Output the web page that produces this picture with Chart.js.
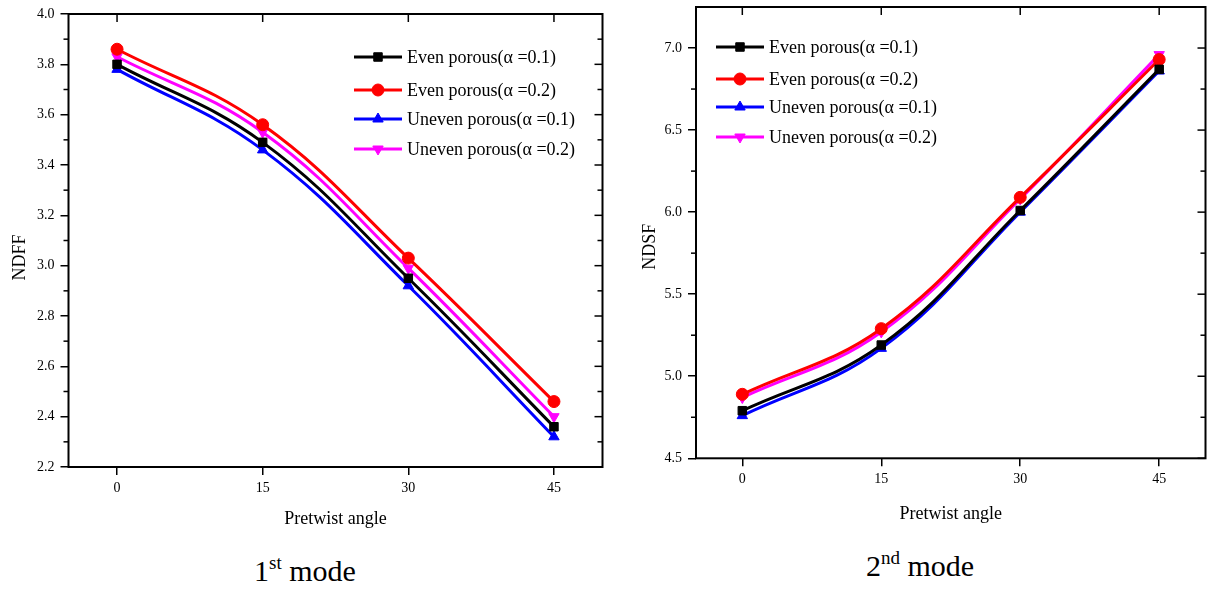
<!DOCTYPE html>
<html>
<head>
<meta charset="utf-8">
<script src="https://cdn.jsdelivr.net/npm/chart.js@4.4.1/dist/chart.umd.min.js"></script>
<style>
  html, body { margin: 0; padding: 0; background: #fff; }
  body { width: 1207px; height: 590px; position: relative; overflow: hidden;
         font-family: "Liberation Serif", "Times New Roman", serif; }
  .box { position: absolute; top: 0; }
  .cap { position: absolute; font-size: 30px; color: #000; white-space: nowrap; transform: translateX(-50%); }
  .cap sup { font-size: 19px; vertical-align: 12px; line-height: 0; }
</style>
</head>
<body>
<div class="box" style="left:0;"><canvas id="mode1" width="620" height="540"></canvas></div>
<div class="box" style="left:620px;"><canvas id="mode2" width="587" height="540"></canvas></div>
<div class="cap" style="left:305px; top:554px;">1<sup>st</sup> mode</div>
<div class="cap" style="left:920px; top:549px;">2<sup>nd</sup> mode</div>

<script>
/* ========= DATA ========= */
const angles = [0, 15, 30, 45];
const seriesNames = [
  "Even porous(\u03b1 =0.1)",
  "Even porous(\u03b1 =0.2)",
  "Uneven porous(\u03b1 =0.1)",
  "Uneven porous(\u03b1 =0.2)"
];

// 1st mode, NDFF
const ndffEven01 = [3.80, 3.49, 2.95, 2.36];
const ndffEven02 = [3.86, 3.56, 3.03, 2.46];
const ndffUneven01 = [3.78, 3.46, 2.92, 2.32];
const ndffUneven02 = [3.83, 3.53, 2.99, 2.40];
const ndffTicks = [2.2, 2.4, 2.6, 2.8, 3.0, 3.2, 3.4, 3.6, 3.8, 4.0];

// 2nd mode, NDSF
const ndsfEven01 = [4.79, 5.19, 6.01, 6.87];
const ndsfEven02 = [4.89, 5.29, 6.09, 6.93];
const ndsfUneven01 = [4.76, 5.17, 6.00, 6.86];
const ndsfUneven02 = [4.87, 5.27, 6.08, 6.96];
const ndsfTicks = [4.5, 5.0, 5.5, 6.0, 6.5, 7.0];

/* ========= STYLE ========= */
const FONT = "'Liberation Serif', 'Times New Roman', serif";
Chart.defaults.font.family = FONT;
Chart.defaults.color = "#000";

const looks = [
  { color: "#000000", pointStyle: "rect", rotation: 0 },
  { color: "#ff0000", pointStyle: "circle", rotation: 0 },
  { color: "#0000ff", pointStyle: "triangle", rotation: 0 },
  { color: "#ff00ff", pointStyle: "triangle", rotation: 180 }
];

function makeDatasets(lists) {
  return lists.map((vals, i) => ({
    label: seriesNames[i],
    data: vals,
    borderColor: looks[i].color,
    backgroundColor: looks[i].color,
    borderWidth: 3,
    pointStyle: looks[i].pointStyle,
    pointRotation: looks[i].rotation,
    pointRadius: 6,
    pointBorderWidth: 1,
    tension: 0.4,
    fill: false
  }));
}

/* ========= FRAME, MINOR TICKS, LEGEND ========= */
const framePlugin = {
  id: "frame",
  afterDraw(chart, args, o) {
    const { ctx, chartArea: a, scales: { x, y } } = chart;
    ctx.save();
    ctx.strokeStyle = "#000";
    ctx.lineWidth = 1.5;
    const seg = (x1, y1, x2, y2) => { ctx.beginPath(); ctx.moveTo(x1, y1); ctx.lineTo(x2, y2); ctx.stroke(); };

    // major + minor on y, mirrored on the right side
    const yt = o.yTicks;
    yt.forEach((v, i) => {
      const py = y.getPixelForValue(v);
      seg(a.right - 8, py, a.right, py);
      if (i < yt.length - 1) {
        const pm = y.getPixelForValue((v + yt[i + 1]) / 2);
        seg(a.left - 5, pm, a.left, pm);
        seg(a.right - 5, pm, a.right, pm);
      }
    });
    // top ticks pointing in
    angles.forEach(v => {
      const px = x.getPixelForValue(v);
      seg(px, a.top, px, a.top + 8);
    });

    ctx.lineWidth = 2;
    ctx.strokeRect(a.left, a.top, a.right - a.left, a.bottom - a.top);

    // y title
    ctx.fillStyle = "#000";
    ctx.font = "18px " + FONT;
    ctx.textAlign = "center";
    ctx.textBaseline = "middle";
    ctx.translate(o.yTitleX, (a.top + a.bottom) / 2 + o.yTitleShift);
    ctx.rotate(-Math.PI / 2);
    ctx.fillText(o.yTitle, 0, 0);
    ctx.restore();

    // legend
    ctx.save();
    ctx.font = "18px " + FONT;
    ctx.textAlign = "left";
    ctx.textBaseline = "middle";
    chart.data.datasets.forEach((ds, i) => {
      const ly = o.legendY[i];
      ctx.strokeStyle = ds.borderColor;
      ctx.fillStyle = ds.borderColor;
      ctx.lineWidth = 3;
      seg(o.legendX, ly, o.legendX + 48, ly);
      ctx.lineWidth = 1;
      Chart.helpers.drawPoint(ctx, {
        pointStyle: ds.pointStyle, rotation: ds.pointRotation,
        radius: 6, borderWidth: 1
      }, o.legendX + 24, ly);
      ctx.fillStyle = "#000";
      ctx.fillText(ds.label, o.legendX + 53, ly + 1);
    });
    ctx.restore();
  }
};

/* ========= CHARTS ========= */
function makeChart(id, lists, ticks, yMin, yMax, box) {
  return new Chart(document.getElementById(id), {
    type: "line",
    data: { labels: angles, datasets: makeDatasets(lists) },
    plugins: [framePlugin],
    options: {
      responsive: false,
      animation: false,
      devicePixelRatio: 1,
      layout: { padding: box.padding, autoPadding: false },
      plugins: {
        legend: { display: false },
        tooltip: { enabled: false },
        frame: box.frame
      },
      scales: {
        x: {
          type: "linear",
          min: -5, max: 50,
          afterBuildTicks: s => { s.ticks = angles.map(v => ({ value: v })); },
          afterFit: s => { s.height = box.xHeight; s.paddingLeft = 0; s.paddingRight = 0; },
          ticks: { font: { size: 14 }, padding: 5, maxRotation: 0 },
          grid: { drawOnChartArea: false, drawTicks: true, tickLength: 8, color: "#000", lineWidth: 1.5 },
          border: { display: false },
          title: { display: true, text: "Pretwist angle", font: { size: 18 }, padding: { top: 0, bottom: 0 } }
        },
        y: {
          min: yMin, max: yMax,
          afterBuildTicks: s => { s.ticks = ticks.map(v => ({ value: v })); },
          afterFit: s => { s.width = box.yWidth; s.paddingTop = 0; s.paddingBottom = 0; },
          ticks: { font: { size: 14 }, padding: 6, callback: v => Number(v).toFixed(1) },
          grid: { drawOnChartArea: false, drawTicks: true, tickLength: 8, color: "#000", lineWidth: 1.5 },
          border: { display: false }
        }
      }
    }
  });
}

window.onload = () => {
  makeChart("mode1",
    [ndffEven01, ndffEven02, ndffUneven01, ndffUneven02],
    ndffTicks, 2.2, 4.0,
    {
      padding: { left: 0, right: 17.5, top: 14, bottom: 10 },
      xHeight: 63, yWidth: 68.5,
      frame: { yTicks: ndffTicks, yTitle: "NDFF", yTitleX: 20, yTitleShift: 17,
               legendX: 354, legendY: [57, 90, 119, 149] }
    });

  makeChart("mode2",
    [ndsfEven01, ndsfEven02, ndsfUneven01, ndsfUneven02],
    ndsfTicks, 4.5, 7.25,
    {
      padding: { left: 0, right: 1.5, top: 7, bottom: 15 },
      xHeight: 66.7, yWidth: 76,
      frame: { yTicks: ndsfTicks, yTitle: "NDSF", yTitleX: 30, yTitleShift: 14,
               legendX: 96, legendY: [47, 79, 107, 137] }
    });
};
</script>
</body>
</html>
